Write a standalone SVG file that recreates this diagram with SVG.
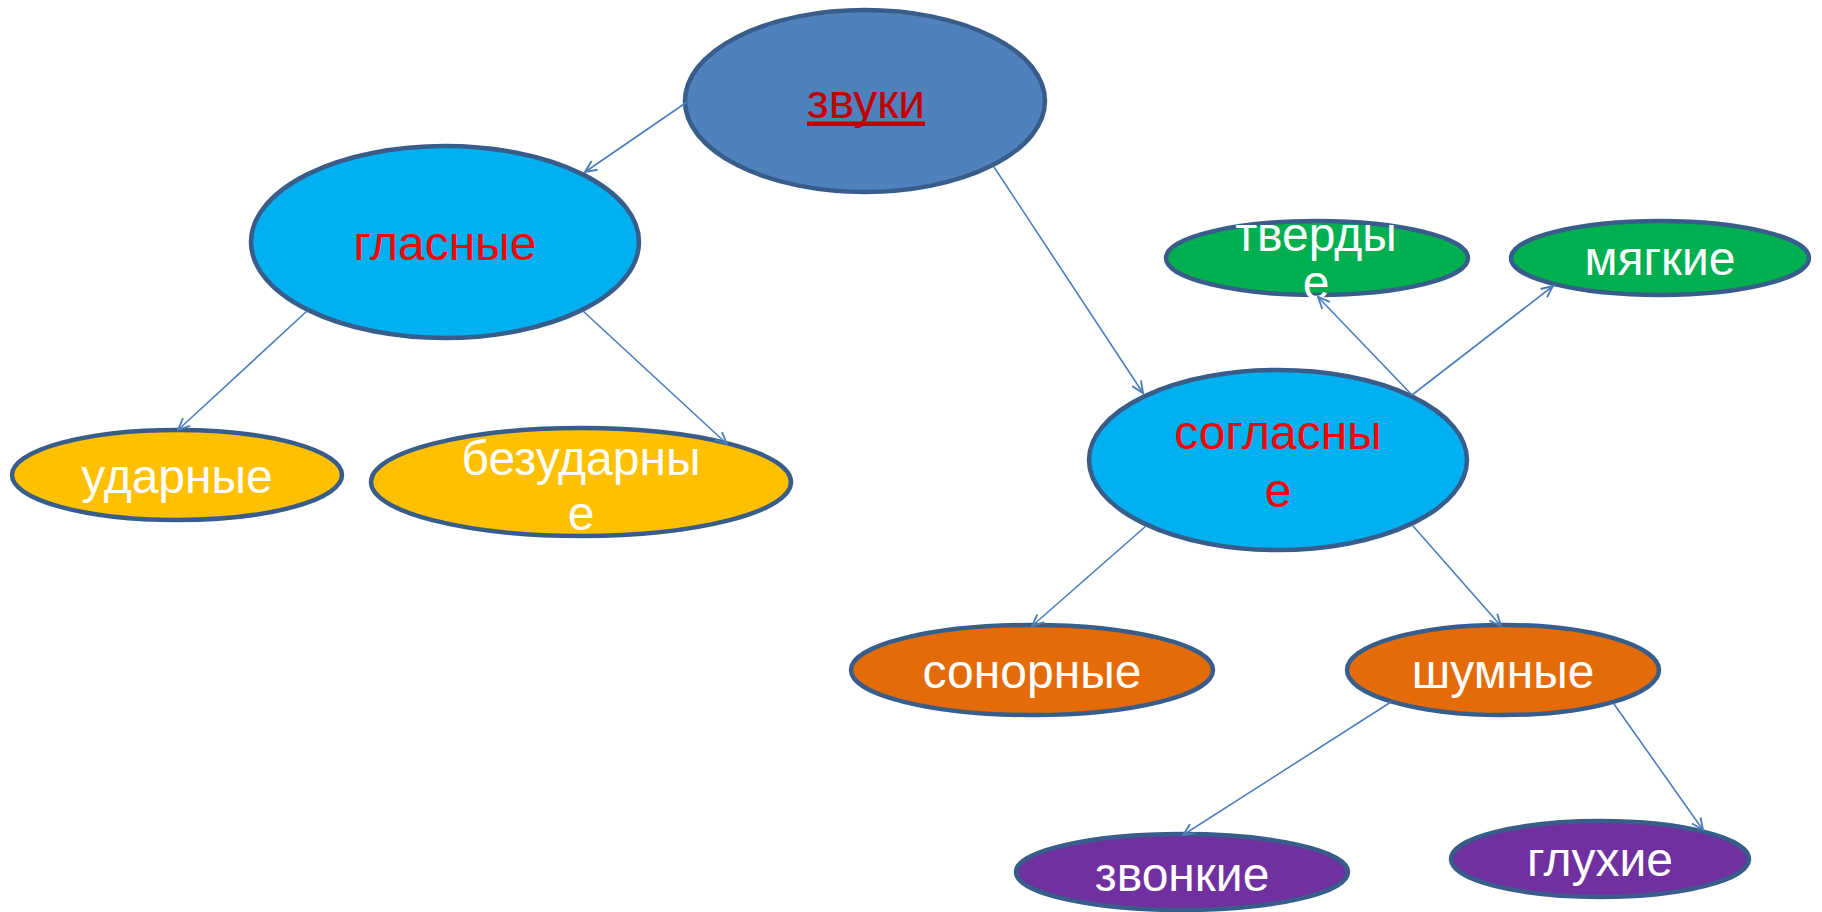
<svg xmlns="http://www.w3.org/2000/svg" width="1822" height="912" viewBox="0 0 1822 912">
<defs>
<style>
.n ellipse{stroke:#385D8A;stroke-width:4.5}
text{font-family:"Liberation Sans",Arial,sans-serif;font-size:48px;text-anchor:middle;fill:#FFFFFF}
.red{fill:#FF0000}
.c line{stroke:#4A7EBB;stroke-width:1.6;fill:none}
</style>
<marker id="ah" markerUnits="userSpaceOnUse" markerWidth="14" markerHeight="14" viewBox="0 0 12 12" refX="11" refY="6" orient="auto">
<path d="M1,1.5 L11,6 L1,10.5" fill="none" stroke="#4A7EBB" stroke-width="1.6"/>
</marker>
</defs>
<rect width="1822" height="912" fill="#FFFFFF"/>
<g id="zvuki" class="n"><ellipse cx="865" cy="101" rx="180" ry="91" fill="#4F81BD"/><text x="866" y="118" style="fill:#C00000">звуки</text><rect x="807" y="121.5" width="118" height="4.5" fill="#C00000"/></g>
<g id="glasnye" class="n"><ellipse cx="445" cy="242" rx="194" ry="96" fill="#00B0F0"/><text x="445" y="260" class="red">гласные</text></g>
<g id="udarnye" class="n"><ellipse cx="177" cy="475" rx="165" ry="45" fill="#FFC000"/><text x="177" y="493">ударные</text></g>
<g id="bezudarnye" class="n"><ellipse cx="581" cy="482" rx="210" ry="54" fill="#FFC000"/><text x="581" y="475">безударны</text><text x="581" y="530">е</text></g>
<g id="tverdye" class="n"><ellipse cx="1317" cy="258" rx="151" ry="37" fill="#00B050"/><text x="1316" y="251">тверды</text><text x="1316" y="299">е</text></g>
<g id="myagkie" class="n"><ellipse cx="1660" cy="258" rx="149" ry="37" fill="#00B050"/><text x="1660" y="275">мягкие</text></g>
<g id="soglasnye" class="n"><ellipse cx="1278" cy="460" rx="189" ry="90" fill="#00B0F0"/><text x="1278" y="449" class="red">согласны</text><text x="1278" y="507" class="red">е</text></g>
<g id="sonornye" class="n"><ellipse cx="1032" cy="670" rx="181" ry="45" fill="#E36C09"/><text x="1032" y="688">сонорные</text></g>
<g id="shumnye" class="n"><ellipse cx="1503" cy="670" rx="156" ry="45" fill="#E36C09"/><text x="1503" y="688">шумные</text></g>
<g id="zvonkie" class="n"><ellipse cx="1182" cy="872" rx="166" ry="38" fill="#7030A0"/><text x="1182" y="891">звонкие</text></g>
<g id="gluhie" class="n"><ellipse cx="1600" cy="859" rx="149" ry="38" fill="#7030A0"/><text x="1600" y="876">глухие</text></g>
<g id="connectors" class="c">
<line x1="687" y1="102" x2="585" y2="172" marker-end="url(#ah)"/>
<line x1="994" y1="167" x2="1143" y2="393" marker-end="url(#ah)"/>
<line x1="307" y1="311" x2="178" y2="430" marker-end="url(#ah)"/>
<line x1="583" y1="311" x2="727" y2="444" marker-end="url(#ah)"/>
<line x1="1412" y1="395" x2="1318" y2="297" marker-end="url(#ah)"/>
<line x1="1412" y1="395" x2="1553" y2="286" marker-end="url(#ah)"/>
<line x1="1146" y1="526" x2="1032" y2="626" marker-end="url(#ah)"/>
<line x1="1413" y1="526" x2="1501" y2="626" marker-end="url(#ah)"/>
<line x1="1391" y1="702" x2="1183" y2="835" marker-end="url(#ah)"/>
<line x1="1614" y1="704" x2="1703" y2="830" marker-end="url(#ah)"/>
</g>
</svg>
